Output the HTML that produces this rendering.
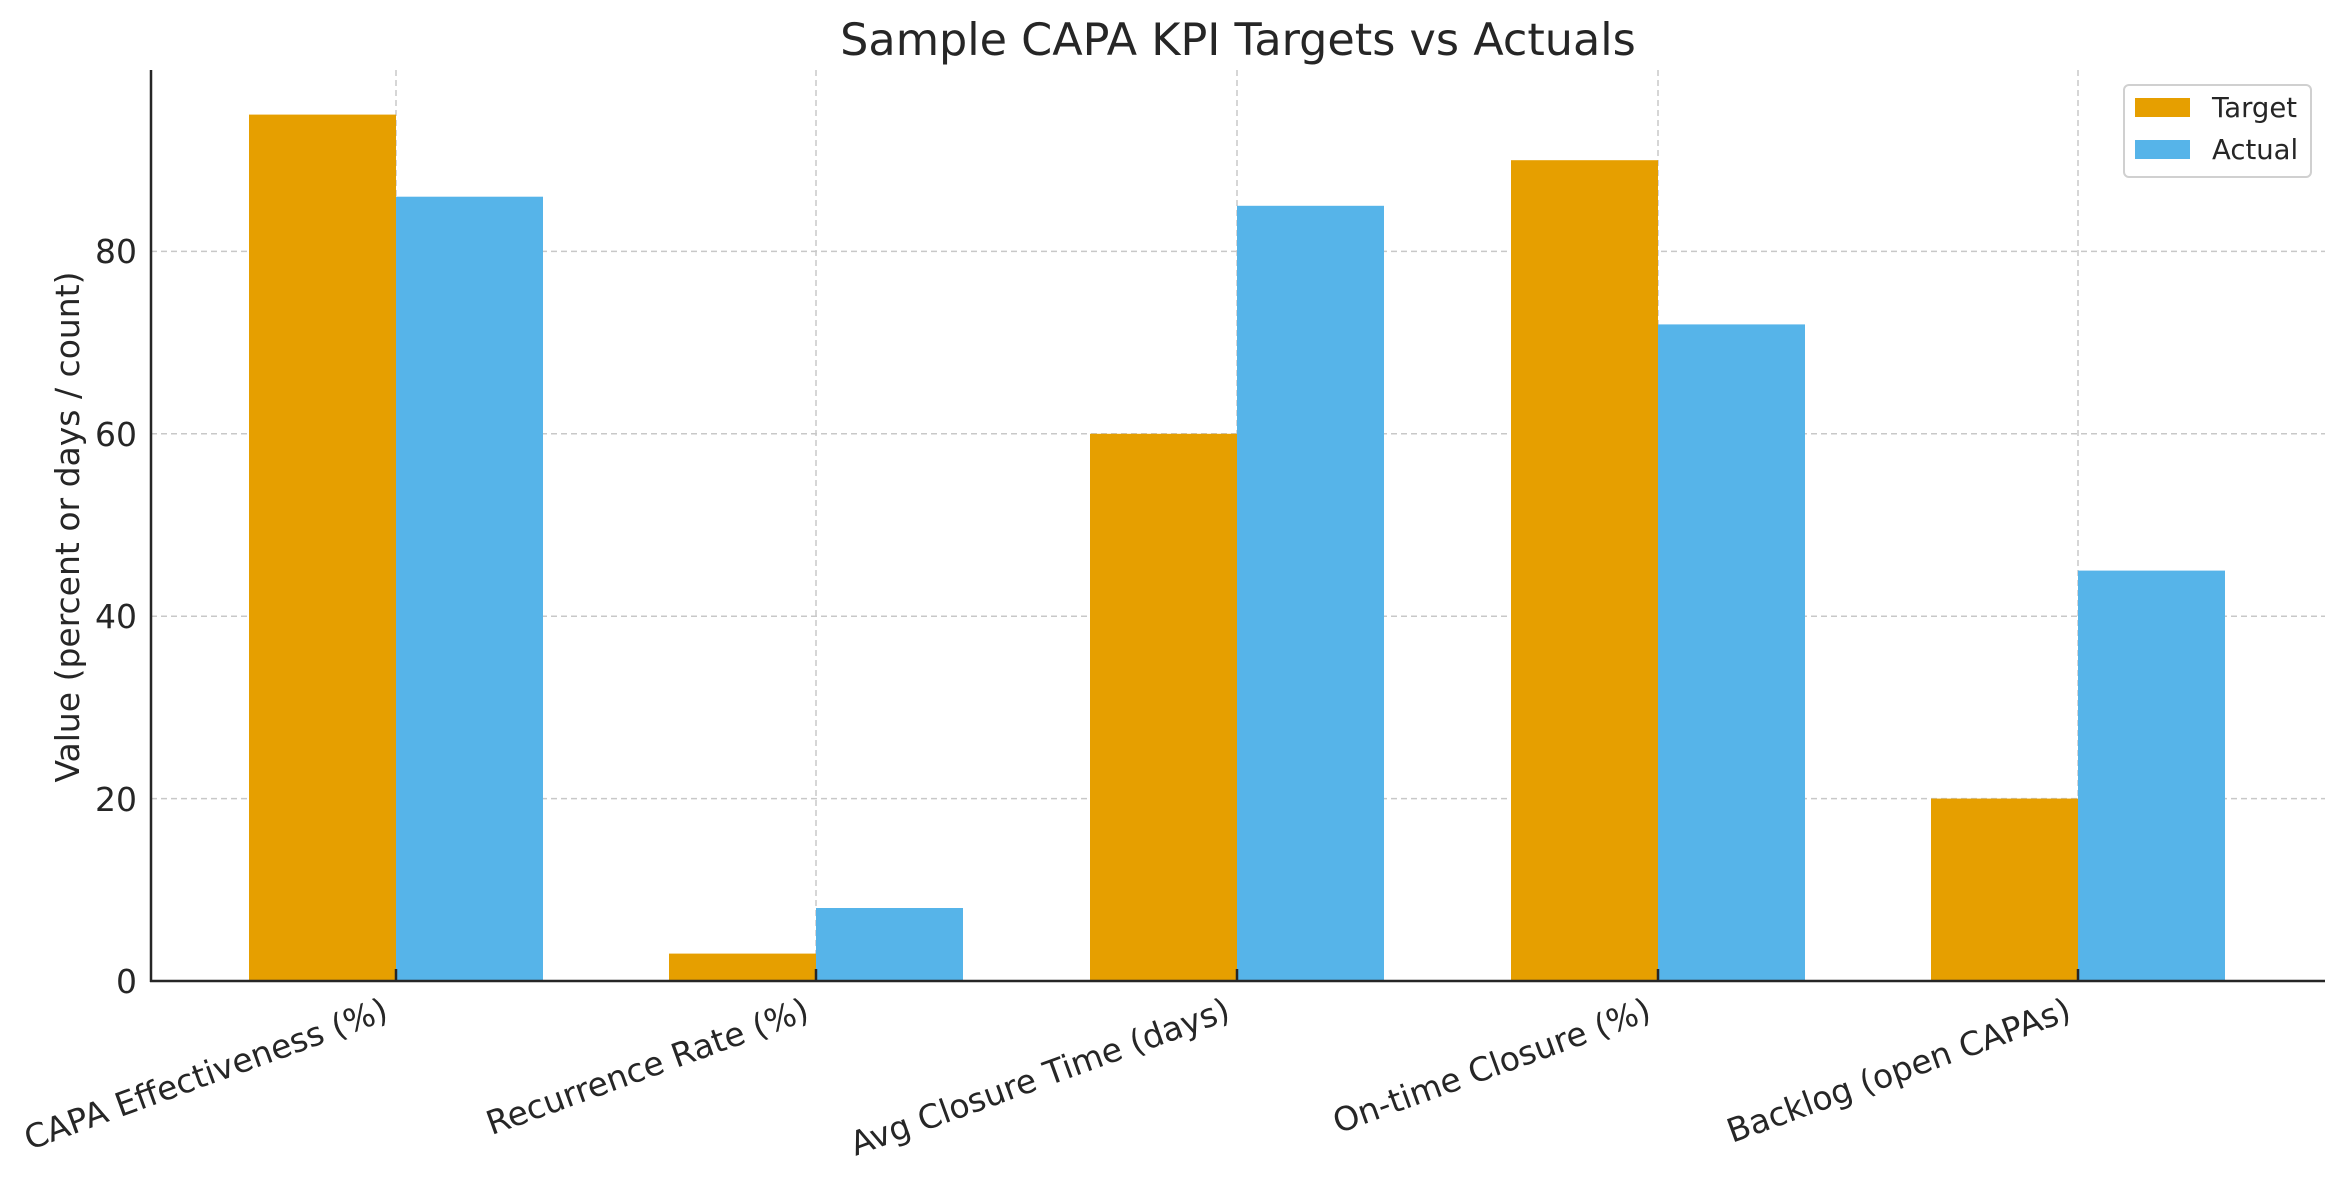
<!DOCTYPE html>
<html><head><meta charset="utf-8"><style>
html,body{margin:0;padding:0;background:#fff}
svg{display:block}
text{font-family:"DejaVu Sans","Liberation Sans",sans-serif;fill:#262626}
</style></head><body>
<svg width="2344" height="1180" viewBox="0 0 2344 1180" xmlns="http://www.w3.org/2000/svg">
<rect width="2344" height="1180" fill="#fff"/>
<text x="1238" y="55" font-size="44.5" text-anchor="middle">Sample CAPA KPI Targets vs Actuals</text>
<g stroke="#c8c8c8" stroke-width="1.5" stroke-dasharray="6,4">
<line x1="151" x2="2325" y1="798.6" y2="798.6"/>
<line x1="151" x2="2325" y1="616.2" y2="616.2"/>
<line x1="151" x2="2325" y1="433.8" y2="433.8"/>
<line x1="151" x2="2325" y1="251.4" y2="251.4"/>
<line x1="396" x2="396" y1="70" y2="981"/>
<line x1="816" x2="816" y1="70" y2="981"/>
<line x1="1237" x2="1237" y1="70" y2="981"/>
<line x1="1658" x2="1658" y1="70" y2="981"/>
<line x1="2078" x2="2078" y1="70" y2="981"/>
</g>
<g>
<rect x="249" y="114.6" width="147" height="866.4" fill="#E69F00"/>
<rect x="396" y="196.7" width="147" height="784.3" fill="#56B4E9"/>
<rect x="669" y="953.6" width="147" height="27.4" fill="#E69F00"/>
<rect x="816" y="908" width="147" height="73" fill="#56B4E9"/>
<rect x="1090" y="433.8" width="147" height="547.2" fill="#E69F00"/>
<rect x="1237" y="205.8" width="147" height="775.2" fill="#56B4E9"/>
<rect x="1511" y="160.2" width="147" height="820.8" fill="#E69F00"/>
<rect x="1658" y="324.4" width="147" height="656.6" fill="#56B4E9"/>
<rect x="1931" y="798.6" width="147" height="182.4" fill="#E69F00"/>
<rect x="2078" y="570.6" width="147" height="410.4" fill="#56B4E9"/>
</g>
<g stroke="#262626" stroke-width="2.5">
<line x1="151" x2="151" y1="70" y2="982"/>
<line x1="150" x2="2325" y1="981" y2="981"/>
<line x1="396" x2="396" y1="969" y2="981"/>
<line x1="816" x2="816" y1="969" y2="981"/>
<line x1="1237" x2="1237" y1="969" y2="981"/>
<line x1="1658" x2="1658" y1="969" y2="981"/>
<line x1="2078" x2="2078" y1="969" y2="981"/>
</g>
<g font-size="33" text-anchor="end">
<text x="137" y="993">0</text>
<text x="137" y="811">20</text>
<text x="137" y="628">40</text>
<text x="137" y="446">60</text>
<text x="137" y="263">80</text>
</g>
<text transform="translate(79,527) rotate(-90)" font-size="33" text-anchor="middle">Value (percent or days / count)</text>
<g font-size="33" text-anchor="end">
<text transform="translate(390,1019) rotate(-20)">CAPA Effectiveness (%)</text>
<text transform="translate(811,1019) rotate(-20)">Recurrence Rate (%)</text>
<text transform="translate(1232,1019) rotate(-20)">Avg Closure Time (days)</text>
<text transform="translate(1653,1019) rotate(-20)">On-time Closure (%)</text>
<text transform="translate(2073,1019) rotate(-20)">Backlog (open CAPAs)</text>
</g>
<rect x="2124" y="85" width="187" height="92" rx="5" fill="#fff" stroke="#d0d0d0" stroke-width="2"/>
<rect x="2135" y="98" width="55" height="19" fill="#E69F00"/>
<rect x="2135" y="140" width="55" height="19" fill="#56B4E9"/>
<text x="2212" y="117" font-size="27.5">Target</text>
<text x="2212" y="159" font-size="27.5">Actual</text>
</svg>
</body></html>
